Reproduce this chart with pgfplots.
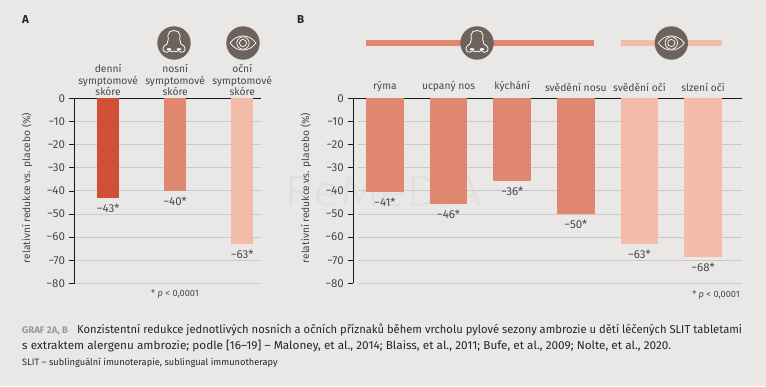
\documentclass[border=0pt]{standalone}
\usepackage{pgfplots}
\usepackage{fontspec}
\setmainfont{Fira Sans}
\newfontfamily\wmfont{Fira Sans Light}
\pgfplotsset{compat=1.18}
\definecolor{bg}{HTML}{E9E8E6}
\definecolor{txt}{HTML}{4A4745}
\definecolor{cA}{HTML}{CF5036}
\definecolor{cB}{HTML}{E0876F}
\definecolor{cC}{HTML}{F2BCA9}
\definecolor{grd}{HTML}{C8C9CB}
\definecolor{ico}{HTML}{6E625D}
\definecolor{wm}{HTML}{E1E0DE}
\newcommand{\nose}[2]{%
 \begin{scope}[shift={(#1,#2)}]
 \fill[ico] (0,0) circle (16.7);
 \draw[white,line width=0.8pt,line join=round]
   (-9,-9) .. controls (-12,-8) and (-12,-3) .. (-7,-1)
   .. controls (-5,2) and (-6,5) .. (-6,8)
   .. controls (-6,14) and (6,14) .. (6,8)
   .. controls (6,5) and (5,2) .. (7,-1)
   .. controls (12,-3) and (12,-8) .. (9,-9)
   .. controls (7,-10) and (6,-9) .. (4.5,-7.5)
   .. controls (3,-9) and (1,-9.5) .. (0,-8)
   .. controls (-1,-9.5) and (-3,-9) .. (-4.5,-7.5)
   .. controls (-6,-9) and (-7,-10) .. (-9,-9);
 \fill[white] (-5,-6.2) ellipse (2.4 and 1);
 \fill[white] (5,-6.2) ellipse (2.4 and 1);
 \end{scope}}
\newcommand{\eye}[2]{%
 \begin{scope}[shift={(#1,#2)}]
 \fill[ico] (0,0) circle (16.7);
 \draw[white,line width=0.7pt] (-13,0) .. controls (-6,9.5) and (6,9.5) .. (13,0) .. controls (6,-9.5) and (-6,-9.5) .. (-13,0) -- cycle;
 \draw[white,line width=0.7pt] (0,0) circle (6.2);
 \draw[white,line width=0.7pt] (0,0) circle (3.6);
 \end{scope}}
\pgfplotsset{base/.style={
  scale only axis, anchor=north west,
  height=184.8pt, ymin=-80, ymax=0,
  axis y line*=left, axis x line*=top,
  axis line style={draw=black!90,line width=0.8pt,-},
  ytick={0,-10,-20,-30,-40,-50,-60,-70,-80},
  xtick style={draw=none},
  ytick style={draw=black!90,line width=0.7pt},
  major tick length=5pt, tick align=outside,
  /pgf/number format/assume math mode=true,
  yticklabel style={font=\fontsize{11.5}{12}\selectfont, text=txt, xshift=-1pt},
  yticklabel={\ifdim\tick pt<0pt −\pgfmathparse{int(-\tick)}\pgfmathresult\else 0\fi},
  xticklabel style={font=\fontsize{10.3}{11.67}\selectfont, text=txt, align=center, anchor=south},
  clip=false,
  ylabel={relativní redukce vs. placebo (\%)},
  nodes near coords style={font=\fontsize{11.5}{12}\selectfont, text=txt, anchor=north, yshift=-2.5pt},
}}
\begin{document}
\begin{tikzpicture}[x=1pt,y=1pt]
\path[use as bounding box, fill=bg] (0,0) rectangle (766,386);
\node[anchor=base west,inner sep=0pt,font=\fontsize{11.5}{12}\selectfont\bfseries,text=black!85] at (22,362) {A};
\node[anchor=base west,inner sep=0pt,font=\fontsize{11.5}{12}\selectfont\bfseries,text=black!85] at (297,362) {B};
\node[anchor=base,inner sep=0pt,font=\wmfont\fontsize{44}{44}\selectfont,text=wm,xscale=1.15] at (383,179) {ReMeDIA};
% Panel A
\begin{axis}[base, at={(74.5pt,287.5pt)}, width=186.5pt,
  xmin=-0.5015, xmax=2.28, 
  xtick={0,1,2},
  xticklabels={{denní\\symptomové\\skóre},{nosní\\symptomové\\skóre},{oční\\symptomové\\skóre}},
  xticklabel style={yshift=-6pt},
  ymajorgrids, grid style={grd,line width=0.8pt},
  ylabel style={at={(axis description cs:-0.2547,0.516)},anchor=center,font=\fontsize{10.2}{12}\selectfont, text=txt},
  ]
\addplot[ybar,draw=none,fill=cA,bar width=22pt,bar shift=0pt,nodes near coords={−43*}] coordinates {(0,-42.9)};
\addplot[ybar,draw=none,fill=cB,bar width=22pt,bar shift=0pt,nodes near coords={−40*}] coordinates {(1,-40)};
\addplot[ybar,draw=none,fill=cC,bar width=22pt,bar shift=0pt,nodes near coords={−63*}] coordinates {(2,-63)};
\end{axis}
% Panel B
\begin{axis}[base, at={(353.3pt,287.5pt)}, width=388.7pt,
  xmin=-0.498, xmax=5.613,
  xtick={0,1,2,3,4,5},
  xticklabels={rýma,ucpaný nos,kýchání,svědění nosu,svědění očí,slzení očí},
  xticklabel style={yshift=-1.8pt},
  ylabel style={at={(axis description cs:-0.1217,0.516)},anchor=center,font=\fontsize{10.2}{12}\selectfont, text=txt},
  ]
\addplot[grd,line width=0.8pt,forget plot] coordinates {(-0.425,-10)(5.613,-10)};
\addplot[grd,line width=0.8pt,forget plot] coordinates {(-0.425,-20)(5.613,-20)};
\addplot[grd,line width=0.8pt,forget plot] coordinates {(-0.425,-30)(5.613,-30)};
\addplot[grd,line width=0.8pt,forget plot] coordinates {(-0.425,-40)(5.613,-40)};
\addplot[grd,line width=0.8pt,forget plot] coordinates {(-0.425,-50)(5.613,-50)};
\addplot[grd,line width=0.8pt,forget plot] coordinates {(-0.425,-60)(5.613,-60)};
\addplot[grd,line width=0.8pt,forget plot] coordinates {(-0.425,-70)(5.613,-70)};
\addplot[grd,line width=0.8pt,forget plot] coordinates {(-0.425,-80)(5.613,-80)};
\addplot[ybar,draw=none,fill=cB,bar width=37.5pt,bar shift=0pt,nodes near coords={−41*}] coordinates {(0,-40.3)};
\addplot[ybar,draw=none,fill=cB,bar width=37.5pt,bar shift=0pt,nodes near coords={−46*}] coordinates {(1,-45.7)};
\addplot[ybar,draw=none,fill=cB,bar width=37.5pt,bar shift=0pt,nodes near coords={−36*}] coordinates {(2,-35.6)};
\addplot[ybar,draw=none,fill=cB,bar width=37.5pt,bar shift=0pt,nodes near coords={−50*}] coordinates {(3,-50)};
\addplot[ybar,draw=none,fill=cC,bar width=37.5pt,bar shift=0pt,nodes near coords={−63*}] coordinates {(4,-63)};
\addplot[ybar,draw=none,fill=cC,bar width=37.5pt,bar shift=0pt,nodes near coords={−68*}] coordinates {(5,-68.5)};
\end{axis}
% icons
\nose{174}{343}
\eye{243}{343}
\fill[cB] (366,340) rectangle (594,346);
\fill[cC] (621,340) rectangle (722,346);
\nose{477}{343}
\eye{671.3}{343}
% footnotes
\node[font=\fontsize{9.2}{11}\selectfont,text=txt] at (175,92) {* \textit{p} < 0,0001};
\node[anchor=east,inner sep=0pt,font=\fontsize{9.2}{11}\selectfont,text=txt] at (740,91) {* \textit{p} < 0,0001};
% caption
\node[anchor=base west,inner sep=0pt,font=\fontsize{9.6}{10}\selectfont\bfseries,text=black!40] at (22,52.5) {GRAF 2A, B};
\node[anchor=base west,inner sep=0pt,xscale=0.974,font=\fontsize{11.5}{13}\selectfont,text=black!85] at (77,52.5) {Konzistentní redukce jednotlivých nosních a očních příznaků během vrcholu pylové sezony ambrozie u dětí léčených SLIT tabletami};
\node[anchor=base west,inner sep=0pt,xscale=1.024,font=\fontsize{11.5}{13}\selectfont,text=black!85] at (22,37) {s extraktem alergenu ambrozie; podle [16–19] – Maloney, et al., 2014; Blaiss, et al., 2011; Bufe, et al., 2009; Nolte, et al., 2020.};
\node[anchor=base west,inner sep=0pt,font=\fontsize{9.27}{11}\selectfont,text=black!85] at (22,21) {SLIT – sublinguální imunoterapie, sublingual immunotherapy};
\end{tikzpicture}
\end{document}
